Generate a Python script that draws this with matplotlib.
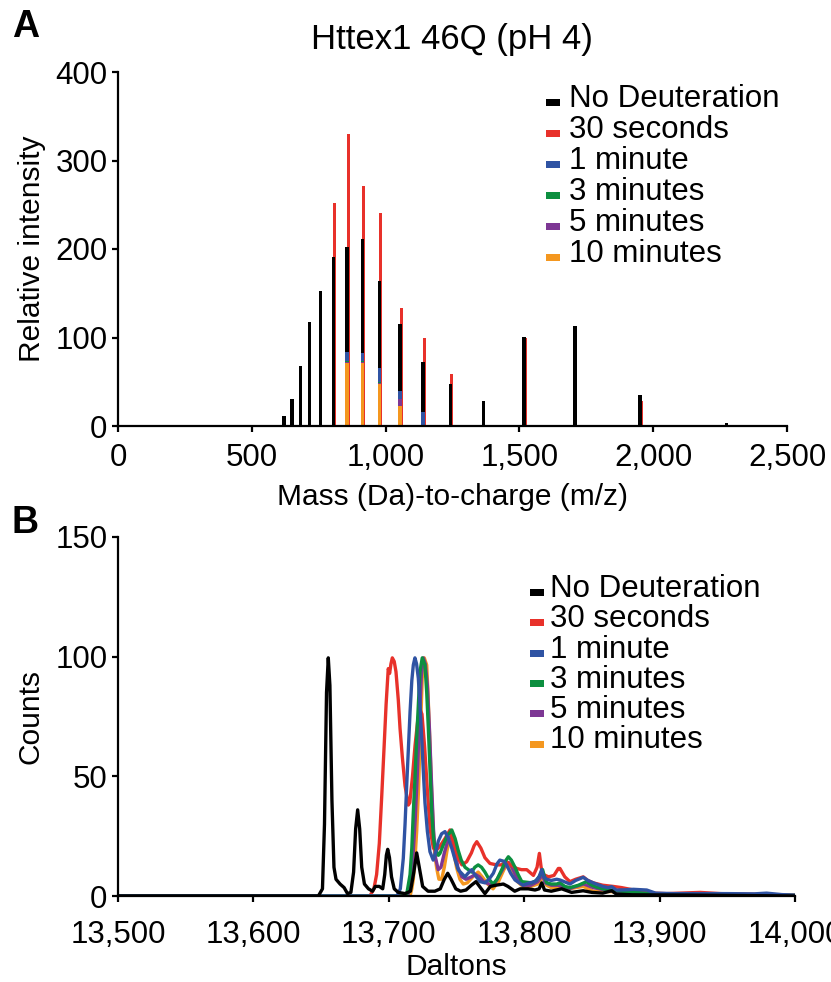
import numpy as np
import matplotlib.pyplot as plt
from matplotlib.patches import Rectangle
from matplotlib.ticker import FuncFormatter

plt.rcParams['font.family'] = ['Liberation Sans', 'DejaVu Sans']

labels = ["No Deuteration", "30 seconds", "1 minute", "3 minutes", "5 minutes", "10 minutes"]
colors = ["#000000", "#e8312a", "#2f53a3", "#0c8f3f", "#7d3794", "#f4971f"]

# panel A: charge state envelope (m/z vs relative intensity)
mz = [620, 650, 682, 717, 758, 805, 856, 913, 976, 1054, 1140, 1242, 1365, 1517, 1708, 1951, 2275]
int_none = [11, 30, 68, 118, 152, 191, 202, 211, 164, 115, 72, 48, 28, 101, 113, 35, 3]
int_30s = [0, 0, 0, 0, 0, 252, 330, 271, 241, 133, 100, 59, 0, 100, 0, 28, 0]
int_1m = [0, 0, 0, 0, 0, 0, 84, 83, 65, 40, 16, 0, 0, 0, 0, 0, 0]
int_3m = [0, 0, 0, 0, 0, 0, 73, 74, 50, 27, 0, 0, 0, 0, 0, 0, 0]
int_5m = [0, 0, 0, 0, 0, 0, 72, 72, 49, 30, 0, 0, 0, 0, 0, 0, 0]
int_10m = [0, 0, 0, 0, 0, 0, 71, 71, 48, 23, 0, 0, 0, 0, 0, 0, 0]

# panel B: deconvoluted spectra (Daltons vs counts)
da_none = [13500, 13648, 13651, 13652.5, 13654, 13655.3, 13656.5, 13658, 13659.5, 13661, 13664, 13667,
           13669.5, 13672, 13674, 13675.5, 13677, 13678.5, 13680, 13682, 13685, 13688, 13690, 13693,
           13695.5, 13697, 13698.2, 13699.2, 13700.5, 13702, 13704, 13707, 13712, 13716, 13718.5,
           13720.6, 13722.5, 13725, 13729, 13734, 13738, 13741, 13743.5, 13746, 13749.5, 13753, 13757,
           13761, 13764.4, 13767, 13771, 13775, 13779, 13784.6, 13788, 13793, 13797, 13803, 13808,
           13811, 13813, 13815, 13820, 13827.7, 13835, 13843.5, 13850, 13858, 13864.6, 13868, 13880,
           13920, 14000]
ct_none = [0, 0, 3, 30, 85, 99.5, 88, 40, 12, 7, 5, 3.5,
           1, 1.5, 10, 28, 36, 28, 12, 5, 3, 2, 4, 4,
           3, 9, 17, 19.5, 16, 8, 3, 1.5, 1, 2, 10,
           18, 12, 4, 2, 2, 3, 7, 9.5, 7, 3, 2, 2.5,
           4.5, 6, 4, 1, 4, 4.5, 5, 4, 2, 3, 3, 2.5,
           3, 5.5, 2.5, 2, 3, 1.5, 2.2, 1.5, 1.2, 2.2, 0.8, 0.5,
           0.4, 0]

da_30s = [13500, 13686, 13689, 13691, 13693, 13694.8, 13696.5, 13698, 13699.6, 13700.6, 13701.6, 13702.6,
          13704, 13705.3, 13707, 13708.3, 13710, 13712, 13714.4, 13715.5, 13717.5, 13719.4, 13721.5,
          13723, 13724.5, 13726.5, 13728.5, 13730.5, 13732.9, 13735, 13738, 13741.5, 13745.2, 13748,
          13751.3, 13754, 13757.5, 13761, 13763, 13765, 13768, 13771, 13774.7, 13779.6, 13783, 13787,
          13790, 13794.5, 13798, 13801.9, 13806.8, 13809.5, 13811.2, 13812.5, 13814, 13818, 13822,
          13825.2, 13826.4, 13830, 13833.8, 13838, 13843.6, 13847, 13851, 13858, 13865.8, 13872, 13881,
          13888, 13895, 13905, 13915, 13930, 13945, 13960, 13980, 14000]
ct_30s = [0, 0, 3, 9, 22, 42, 62, 80, 95, 93, 97, 99.5,
          98, 93.7, 82, 70, 58, 46, 38, 39, 50, 63, 74,
          78, 76, 62, 44, 28, 20, 19, 21, 24, 27.6, 22,
          15.7, 13, 14.3, 18, 21, 22.7, 20, 16, 13.6, 13, 13, 14.3,
          13, 11.5, 11, 11, 8.6, 12, 17.8, 12, 9, 8, 8.6,
          11.5, 11.5, 8, 6, 7, 8, 6.5, 5.5, 4.5, 4, 3.5, 2.5,
          2, 1.2, 1, 1.2, 1.5, 1, 0.8, 0.6, 0.3]

da_1m = [13500, 13706, 13708.5, 13710.7, 13712, 13713.2, 13714.5, 13715.7, 13717, 13718.1, 13719.3,
         13720.5, 13721.8, 13723, 13724.3, 13725.5, 13726.7, 13728.5, 13730.4, 13732.8, 13735, 13736.6,
         13739, 13741.5, 13744, 13746.5, 13749, 13751.3, 13756.3, 13758.5, 13761.2, 13764, 13767.4,
         13771, 13774, 13777.2, 13780, 13782, 13785, 13787, 13790, 13793.2, 13799, 13804, 13808, 13811,
         13812.9, 13814.5, 13816.6, 13820, 13824, 13826.4, 13833.8, 13838, 13843.6, 13847, 13851, 13858,
         13862, 13864.6, 13868, 13875, 13880.6, 13890.5, 13897, 13910, 13930, 13950, 13970, 13979,
         13990, 14000]
ct_1m = [0, 0, 3, 15.7, 30, 46, 62, 77, 90, 96.5, 99.5,
         97, 91, 80, 66, 52, 39, 27, 18.5, 15, 19, 23,
         26, 26.9, 24, 20, 15, 10.9, 8, 9.5, 11, 8.5, 6,
         5.5, 7, 9.5, 13.5, 15, 14.5, 13, 9.5, 6.7, 4.5, 5.5, 6, 8,
         11, 8, 7, 6.5, 7, 6.7, 5, 6.5, 7.8, 6.5, 5.5, 4,
         3.5, 3.9, 2.5, 2.6, 2.8, 2.5, 1.2, 1, 1, 1, 0.9, 1.2,
         0.6, 0.3]

da_3m = [13500, 13713, 13715.7, 13717, 13718.1, 13719.4, 13720.6, 13722, 13723, 13724.7, 13726.7, 13728,
         13729.2, 13730.5, 13731.7, 13733, 13734.1, 13736.6, 13737.8, 13740, 13742.8, 13746.5, 13749,
         13751.3, 13753.5, 13756.3, 13761.2, 13763.5, 13766, 13768.5, 13771, 13774, 13777, 13780,
         13783.4, 13786, 13788.3, 13790.5, 13793.2, 13795.5, 13798.2, 13805.6, 13809, 13811.5, 13813.6,
         13815, 13816.6, 13820, 13824, 13826.4, 13830, 13833.8, 13840, 13846, 13850, 13853.4, 13858,
         13864.6, 13875.7, 13893, 13922.6, 13960, 14000]
ct_3m = [0, 0, 9, 20, 35, 50, 66, 82, 93.7, 99.5, 96.5, 85,
         70, 52, 35, 24, 20, 17, 17.8, 21, 24.8, 27.6, 24,
         19, 15, 12, 10, 12, 13, 12, 10, 7, 5, 7,
         11, 14.5, 16.4, 15, 12, 9, 6, 5.5, 6.5, 8.5, 11,
         8, 5.5, 5, 5, 5.5, 4, 3.5, 4.5, 6, 4.5, 3.7, 3,
         2.5, 1.8, 1, 0.6, 0.5, 0.3]

da_5m = [13500, 13714, 13716.5, 13718, 13719.5, 13721, 13722.5, 13724, 13725.5, 13727, 13728.5, 13730,
         13731.5, 13733, 13734.5, 13736.5, 13738.5, 13741, 13744, 13746, 13748.5, 13751, 13754, 13757,
         13761, 13764, 13767, 13770, 13774, 13778, 13782, 13786, 13788.5, 13791, 13795, 13799, 13805,
         13810, 13813.5, 13815.5, 13820, 13825, 13833, 13844, 13851, 13860, 13870, 13890, 13930, 14000]
ct_5m = [0, 0, 8, 18, 32, 50, 72, 92, 99.5, 97, 88, 70,
         48, 28, 16, 11, 12, 18, 24, 25, 20, 12, 8, 7,
         8, 9, 8, 6, 5, 5, 9, 13, 14, 12, 7, 4.5, 4.5,
         6, 9, 5.5, 4.5, 4.5, 3, 5, 3.5, 2.5, 1.8, 0.9, 0.5, 0.3]

da_10m = [13500, 13715.7, 13717, 13718.1, 13719.3, 13720.6, 13722, 13723, 13724.7, 13726.2, 13728, 13729,
          13730.4, 13731.6, 13732.9, 13734, 13735.4, 13737, 13739, 13741, 13743, 13745, 13747.5, 13750,
          13752.5, 13755, 13758, 13762, 13766, 13769, 13773, 13777, 13781, 13785, 13788, 13791, 13795,
          13799, 13805, 13810, 13814, 13816.5, 13820, 13824, 13826, 13833, 13843.6, 13851, 13864.6,
          13875, 13890, 13930, 14000]
ct_10m = [0, 0, 3, 7, 15, 27, 45, 63, 91, 99.5, 96.5, 84,
          63, 44, 27, 17, 11.5, 7, 7, 12, 19, 24, 20, 12,
          7, 5, 5.5, 8, 10, 8, 5, 3, 6, 11, 14, 11, 6,
          4, 4, 5, 8, 4.5, 3.5, 3.5, 3.8, 3, 4, 2, 1.8,
          1.2, 0.8, 0.4, 0.2]

W, H = 831, 982
fig = plt.figure(figsize=(W / 100, H / 100), dpi=100)


def fx(px):
    return px / W


def fy(py):
    return 1 - py / H


FS = 22.5
LFS = 21.5
comma = FuncFormatter(lambda v, p: f"{v:,.0f}")


def style(ax, xpad):
    for s in ["top", "right"]:
        ax.spines[s].set_visible(False)
    for s in ["left", "bottom"]:
        ax.spines[s].set_linewidth(1.6)
    ax.tick_params(direction="out", length=4.5, width=1.6, labelsize=FS, pad=3)
    ax.tick_params(axis="x", pad=xpad)


# ---- panel A ----
axA = fig.add_axes([fx(118), fy(426), fx(787) - fx(118), fy(72) - fy(426)])
mz_arr = np.array(mz)
bw = 12
axA.bar(mz_arr + 5, int_30s, width=bw, color=colors[1], linewidth=0)
axA.bar(mz_arr, int_none, width=bw, color=colors[0], linewidth=0)
axA.bar(mz_arr, int_1m, width=bw, color=colors[2], linewidth=0)
axA.bar(mz_arr, int_3m, width=bw, color=colors[3], linewidth=0)
axA.bar(mz_arr, int_5m, width=bw, color=colors[4], linewidth=0)
axA.bar(mz_arr, int_10m, width=bw, color=colors[5], linewidth=0)
axA.set_xlim(0, 2500)
axA.set_ylim(0, 400)
axA.set_xticks([0, 500, 1000, 1500, 2000, 2500])
axA.set_yticks([0, 100, 200, 300, 400])
axA.xaxis.set_major_formatter(comma)
style(axA, 8)
axA.set_xlabel("Mass (Da)-to-charge (m/z)", fontsize=LFS)
axA.set_ylabel("Relative intensity", fontsize=LFS)
axA.xaxis.set_label_coords(0.5, -0.16)
axA.yaxis.set_label_coords(-0.108, 0.5)

fig.text(fx(452), fy(40), "Httex1 46Q (pH 4)", fontsize=25, ha="center", va="center")
fig.text(fx(12), fy(37), "A", fontsize=27, weight="bold", va="baseline")

# ---- panel B ----
axB = fig.add_axes([fx(118), fy(896), fx(795) - fx(118), fy(537) - fy(896)])
series = [(da_10m, ct_10m, 5), (da_5m, ct_5m, 4), (da_30s, ct_30s, 1),
          (da_3m, ct_3m, 3), (da_1m, ct_1m, 2), (da_none, ct_none, 0)]
for xs, ys, ci in series:
    axB.plot(xs, ys, color=colors[ci], linewidth=2.4, solid_joinstyle="round")
axB.set_xlim(13500, 14000)
axB.set_ylim(0, 150)
axB.set_xticks([13500, 13600, 13700, 13800, 13900, 14000])
axB.set_yticks([0, 50, 100, 150])
axB.xaxis.set_major_formatter(comma)
style(axB, 13)
axB.set_xlabel("Daltons", fontsize=LFS)
axB.set_ylabel("Counts", fontsize=LFS)
axB.xaxis.set_label_coords(0.5, -0.158)
axB.yaxis.set_label_coords(-0.108, 0.5)
fig.text(fx(12), fy(533), "B", fontsize=27, weight="bold", va="baseline")


# ---- legends drawn in figure pixels ----
def legend(x_mark, x_text, y_top, pitch):
    for i, (lab, col) in enumerate(zip(labels, colors)):
        yc = y_top + i * pitch
        fig.add_artist(Rectangle((fx(x_mark), fy(yc + 3)), 14 / W, 7 / H,
                                 transform=fig.transFigure, color=col, linewidth=0))
        fig.text(fx(x_text), fy(yc + 4), lab, fontsize=FS, va="baseline")


legend(546, 569, 103, 31)
legend(530, 550, 593, 30.3)

fig.savefig("out.png", dpi=100)
